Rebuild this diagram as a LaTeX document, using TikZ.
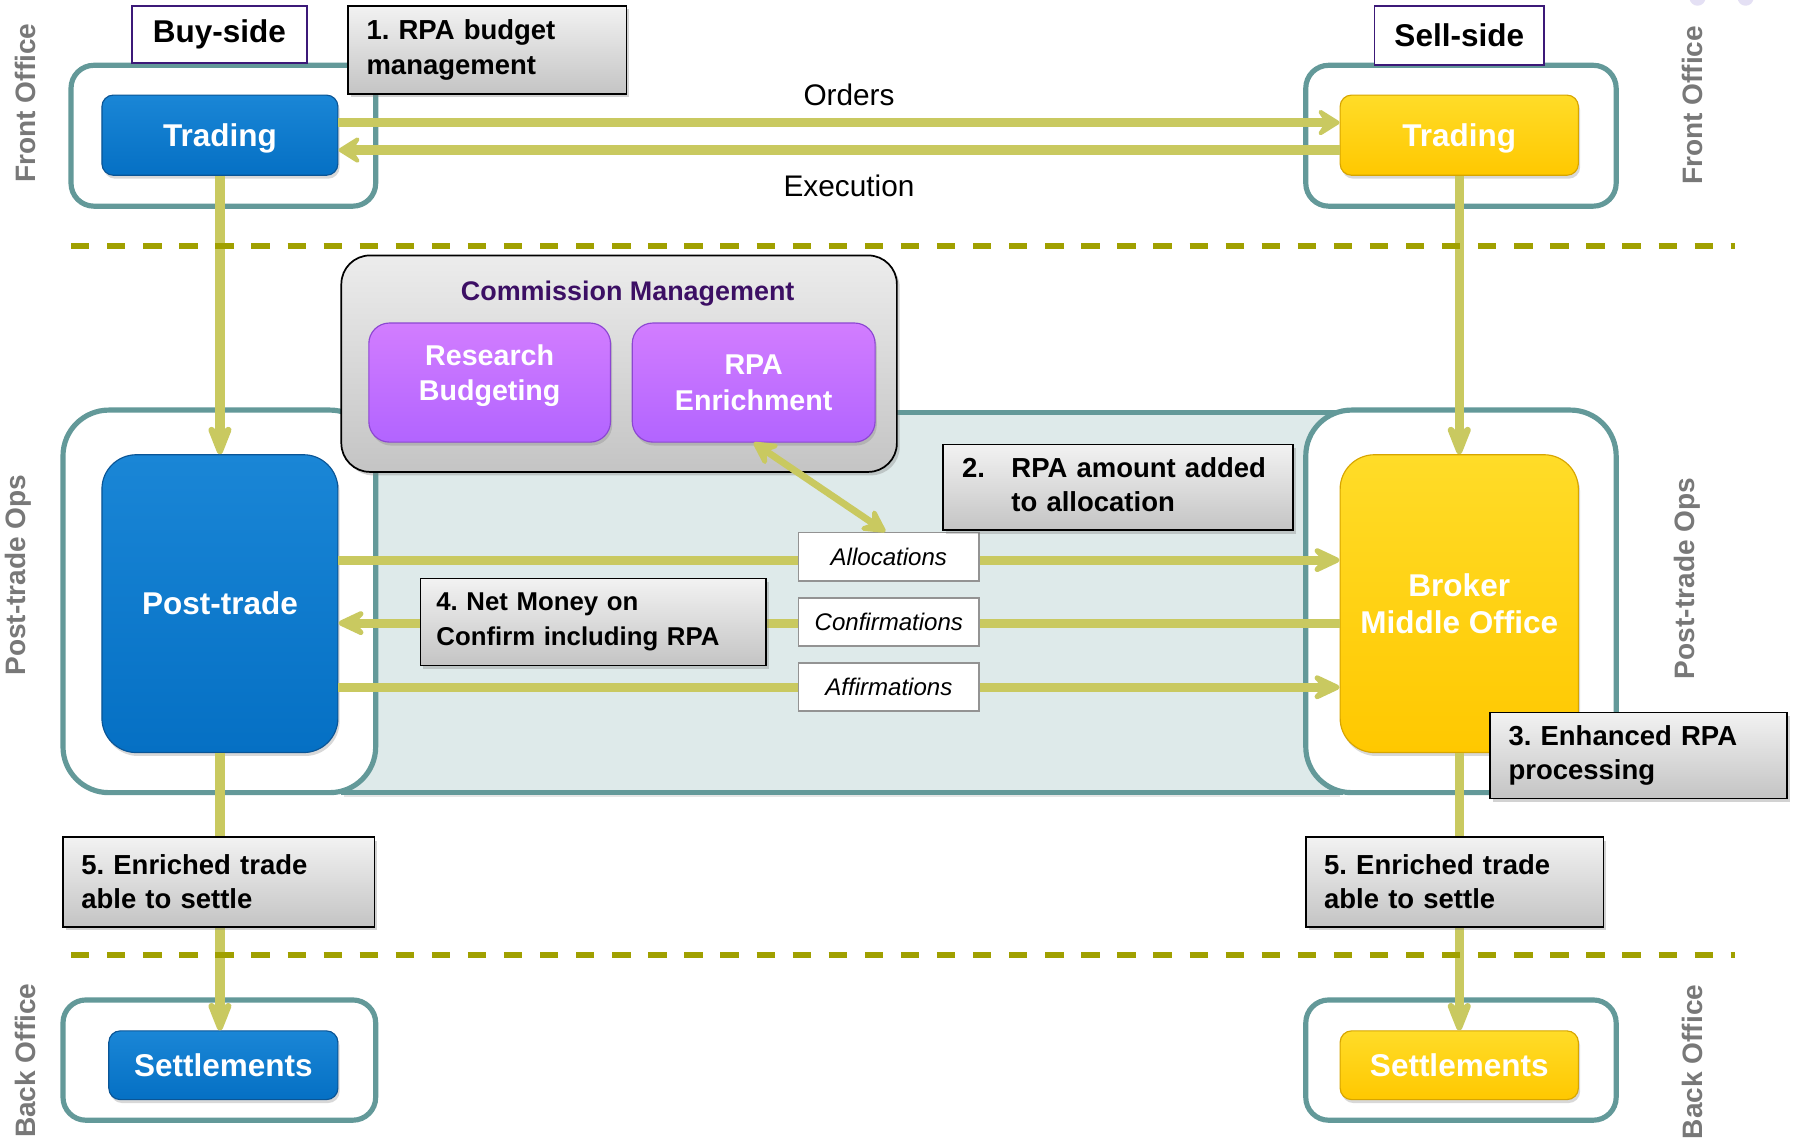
\documentclass[tikz,border=0pt]{standalone}
\usepackage{fontspec}
\setmainfont{Liberation Sans}
\usetikzlibrary{arrows.meta,shadows}
\definecolor{arrowc}{RGB}{201,201,96}
\definecolor{dashc}{RGB}{160,160,0}
\definecolor{tealc}{RGB}{99,153,153}
\definecolor{lightc}{RGB}{222,234,234}
\definecolor{blueA}{RGB}{26,134,214}
\definecolor{blueB}{RGB}{5,112,196}
\definecolor{blueD}{RGB}{10,85,150}
\definecolor{yelA}{RGB}{255,220,40}
\definecolor{yelB}{RGB}{255,200,0}
\definecolor{yelD}{RGB}{215,165,0}
\definecolor{purA}{RGB}{210,125,255}
\definecolor{purB}{RGB}{178,100,255}
\definecolor{purD}{RGB}{140,70,210}
\definecolor{grayA}{RGB}{242,242,242}
\definecolor{grayB}{RGB}{196,196,196}
\definecolor{sidec}{RGB}{120,120,120}
\definecolor{titlec}{RGB}{60,15,100}
\definecolor{labc}{RGB}{60,25,120}
\definecolor{bubc}{RGB}{228,224,244}
\newcommand{\fsz}[2]{\fontsize{#1}{#2}\selectfont}
\frenchspacing
\begin{document}
\begin{tikzpicture}[x=1pt,y=-1pt,
  grp/.style={draw=tealc,line width=4.5pt,fill=white,rounded corners=#1},
  grp/.default=20pt,
  boxbase/.style={inner sep=0pt,align=center,text=white,font=\fsz{27.5}{33}\bfseries,line width=1pt,
    drop shadow={shadow xshift=1.5pt,shadow yshift=-3pt,opacity=0.3}},
  bluebox/.style={boxbase,rounded corners=10pt,top color=blueA,bottom color=blueB,draw=blueD},
  yelbox/.style={boxbase,rounded corners=10pt,top color=yelA,bottom color=yelB,draw=yelD},
  purbox/.style={boxbase,rounded corners=18pt,top color=purA,bottom color=purB,draw=purD},
  callout/.style={draw=black,line width=1.5pt,top color=grayA,bottom color=grayB,align=left,
    inner xsep=16pt,inner ysep=0pt,font=\fsz{24}{30}\bfseries,
    drop shadow={shadow xshift=2.5pt,shadow yshift=-3pt,opacity=0.35}},
  sidebox/.style={draw=labc,line width=1.5pt,fill=white,font=\fsz{27.5}{33}\bfseries,inner sep=0pt},
  lab/.style={draw=gray!85,line width=1.5pt,fill=white,font=\fsz{21}{25}\itshape,inner sep=0pt,
    minimum width=158pt,minimum height=42pt},
  side/.style={rotate=90,text=sidec,font=\fsz{24.5}{29}\bfseries,inner sep=0pt},
  flow/.style={draw=arrowc,line width=8pt},
  tipH/.style={-{Stealth[length=24pt,width=30pt,inset=10pt,round]}},
  tipA/.style={-{Stealth[length=32pt,width=30pt,inset=14pt,round]}},
  tipV/.style={-{Stealth[length=38pt,width=30pt,inset=16pt,round]}},
  edgetext/.style={text=black,font=\fsz{26}{30}}
]
\useasboundingbox (0,0) rectangle (1568,994);
\fill[white] (0,0) rectangle (1568,994);
% faint bubbles at top right
\fill[bubc] (1482,-2) circle (7pt);
\fill[bubc] (1524,-2) circle (7pt);

% light post-trade area
\draw[fill=lightc,draw=tealc,line width=4.5pt,drop shadow={shadow xshift=0pt,shadow yshift=-4pt,opacity=0.2}] (300,360) rectangle (1170,692);

% groups
\draw[grp] (62,57) rectangle (328,180);
\draw[grp] (1140,57) rectangle (1411,180);
\draw[grp=40pt] (55,358) rectangle (328,692);
\draw[grp=40pt] (1140,358) rectangle (1411,692);
\draw[grp] (55,873) rectangle (328,978);
\draw[grp] (1140,873) rectangle (1411,978);

% commission management
\node[draw=black,line width=1.5pt,rounded corners=25pt,top color=grayA!95!gray,bottom color=grayB,
  minimum width=485pt,minimum height=189pt,inner sep=0pt,
  drop shadow={shadow xshift=2.5pt,shadow yshift=-3pt,opacity=0.35}] (cm) at (540.5,317.5) {};
\node[text=titlec,font=\fsz{23.5}{28}\bfseries,inner sep=0pt] (cmt) at (548,256) {Commission Management};
\node[purbox,minimum width=211pt,minimum height=104pt] (rb) at (427.5,334) {};
\node[text=white,font=\fsz{25}{31}\bfseries,align=center,inner sep=0pt] (rbt) at (427.5,328) {Research\\Budgeting};
\node[purbox,minimum width=212pt,minimum height=104pt,font=\fsz{25}{31}\bfseries] (re) at (658,334) {RPA\\Enrichment};

% main boxes
\node[bluebox,minimum width=206pt,minimum height=70pt,text depth=0pt] (tb) at (192,118) {Trading};
\node[yelbox,minimum width=208pt,minimum height=70pt,text depth=0pt] (ts) at (1274,118) {Trading};
\node[bluebox,rounded corners=30pt,minimum width=206pt,minimum height=260pt] (pt) at (192,527) {Post-trade};
\node[yelbox,rounded corners=30pt,minimum width=208pt,minimum height=260pt] (bm) at (1274,527) {Broker\\Middle Office};
\node[bluebox,minimum width=200pt,minimum height=60pt] (sb) at (195,930) {Settlements};
\node[yelbox,minimum width=208pt,minimum height=60pt] (ss) at (1274,930) {Settlements};

% side labels
\node[side] (lfo) at (22,90) {Front Office};
\node[side] (lpt) at (16,502) {Post-trade Ops};
\node[side] (lbo) at (22,926) {Back Office};
\node[side] (rfo) at (1478,92) {Front Office};
\node[side] (rpt) at (1473,505) {Post-trade Ops};
\node[side] (rbo) at (1478,927) {Back Office};

% buy / sell side labels
\node[sidebox,minimum width=153pt,minimum height=50pt] (buy) at (191.5,30) {Buy-side};
\node[sidebox,minimum width=148pt,minimum height=52pt] (sell) at (1274,31) {Sell-side};

% arrows
\draw[flow,tipH] ([yshift=11pt]tb.east) -- node[pos=0.51,yshift=24pt,edgetext] (ord) {Orders} ([yshift=11pt]ts.west);
\draw[flow,tipH] ([yshift=-13pt]ts.west) -- node[pos=0.49,yshift=-31pt,edgetext] (exe) {Execution} ([yshift=-13pt]tb.east);
\draw[flow,tipV] (tb.south) -- (pt.north);
\draw[flow,tipV] (ts.south) -- (bm.north);
\draw[flow,tipV] (pt.south) -- (pt.south |- sb.north);
\draw[flow,tipV] (bm.south) -- (ss.north);
\draw[flow,tipA] ([yshift=38pt]pt.east) -- ([yshift=38pt]bm.west);
\draw[flow,tipA] ([yshift=-17pt]bm.west) -- ([yshift=-17pt]pt.east);
\draw[flow,tipA] ([yshift=-73pt]pt.east) -- ([yshift=-73pt]bm.west);

% dashed separators
\draw[dashc,line width=5pt,dash pattern=on 16pt off 15.5pt] (62,215) -- (1515,215);
\draw[dashc,line width=5pt,dash pattern=on 16pt off 15.5pt] (62,834) -- (1515,834);

% flow labels
\node[lab] (al) at (776,486) {Allocations};
\node[lab] (co) at (776,543) {Confirmations};
\node[lab] (af) at (776,600) {Affirmations};
\draw[draw=arrowc,line width=6pt,{Stealth[length=26pt,width=28pt,inset=10pt,round]}-{Stealth[length=26pt,width=28pt,inset=10pt,round]}] (re.south) -- ([xshift=-3pt]al.north);

% callouts
\node[callout,text width=211pt,minimum height=77pt] (c1) at (425.5,43.5) {1. RPA budget\\management};
\node[callout,text width=272pt,minimum height=75pt,inner xsep=17pt] (c2) at (976,425.5)
  {\begin{tabular}{@{}l@{\hspace{23pt}}l@{}}2.&RPA amount added\\&to allocation\end{tabular}};
\node[callout,text width=274pt,minimum height=76pt,inner xsep=14pt,font=\fsz{22.5}{30}\bfseries] (c4) at (518,543) {4. Net Money on\\Confirm including RPA};
\node[callout,text width=227pt,minimum height=75pt] (c3) at (1430.5,659.5) {3. Enhanced RPA\\processing};
\node[callout,text width=240pt,minimum height=78pt] (c5a) at (191,770) {5. Enriched trade\\able to settle};
\node[callout,text width=228pt,minimum height=78pt] (c5b) at (1270,770) {5. Enriched trade\\able to settle};
\end{tikzpicture}
\end{document}
